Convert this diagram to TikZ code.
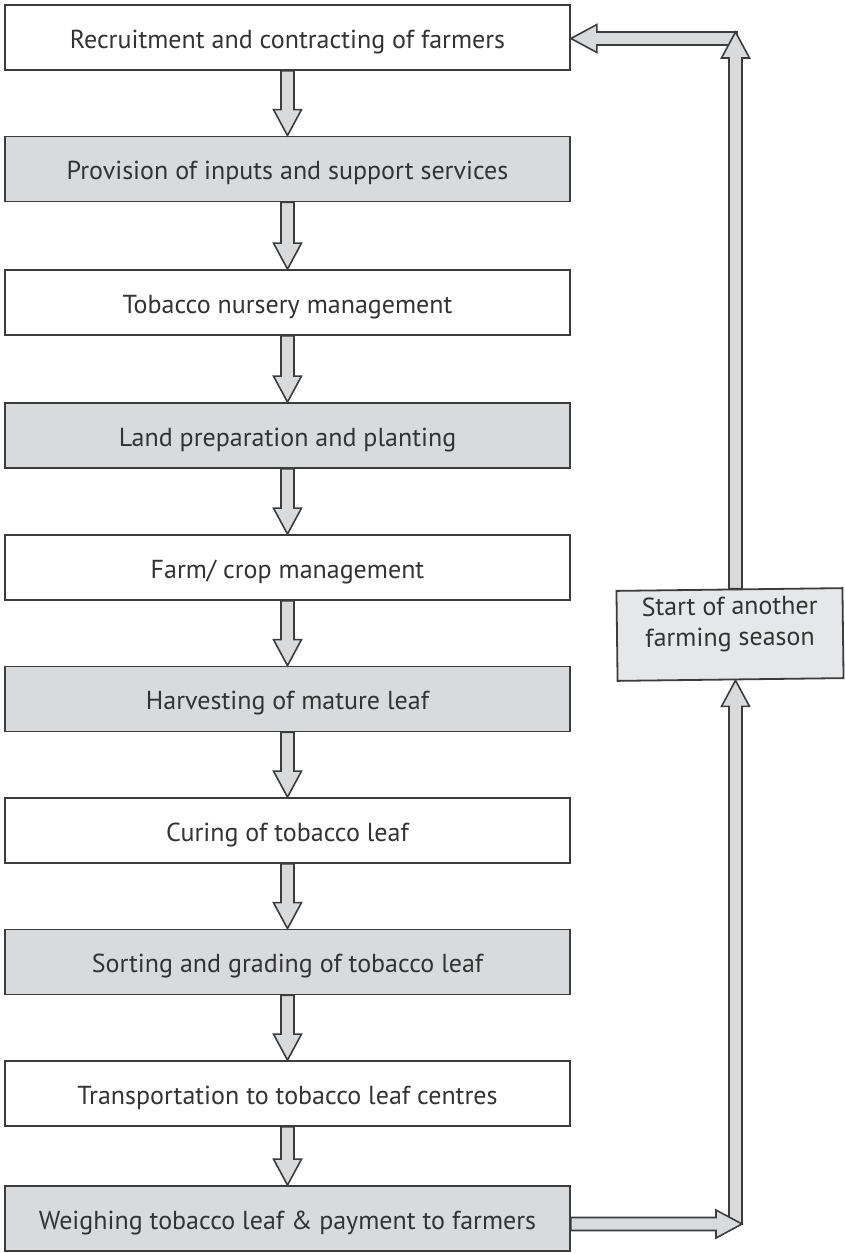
\documentclass[tikz,border=0pt]{standalone}
\usepackage{fontspec}
\setmainfont{PT Sans}
\usetikzlibrary{calc}
\definecolor{edge}{HTML}{3C3C3C}
\definecolor{boxgray}{HTML}{D9DADC}
\definecolor{lightgray2}{HTML}{E6E7E8}
\definecolor{txt}{HTML}{333333}
\newcommand\sw{6.5pt}
\newcommand\hw{14pt}
\newcommand\hl{26pt}
\newcommand\arrdown[2]{\path[blk] let \p1=(#1), \p2=(#2) in (\x1-\sw,\y1) -- (\x1+\sw,\y1) -- (\x1+\sw,\y2+\hl) -- (\x1+\hw,\y2+\hl) -- (\x1,\y2) -- (\x1-\hw,\y2+\hl) -- (\x1-\sw,\y2+\hl) -- cycle;}
\newcommand\arrup[2]{\path[blk] let \p1=(#1), \p2=(#2) in (\x1-\sw,\y1) -- (\x1+\sw,\y1) -- (\x1+\sw,\y2-\hl) -- (\x1+\hw,\y2-\hl) -- (\x1,\y2) -- (\x1-\hw,\y2-\hl) -- (\x1-\sw,\y2-\hl) -- cycle;}
\newcommand\arrright[2]{\path[blk] let \p1=(#1), \p2=(#2) in (\x1,\y1+\sw) -- (\x2-\hl,\y1+\sw) -- (\x2-\hl,\y1+\hw) -- (\x2,\y1) -- (\x2-\hl,\y1-\hw) -- (\x2-\hl,\y1-\sw) -- (\x1,\y1-\sw) -- cycle;}
\newcommand\arrleft[2]{\path[blk] let \p1=(#1), \p2=(#2) in (\x1,\y1+\sw) -- (\x2+\hl,\y1+\sw) -- (\x2+\hl,\y1+\hw) -- (\x2,\y1) -- (\x2+\hl,\y1-\hw) -- (\x2+\hl,\y1-\sw) -- (\x1,\y1-\sw) -- cycle;}
\tikzset{
  stepbox/.style={draw=edge, line width=1.8pt, minimum width=565pt, minimum height=65pt,
    inner sep=0pt, text=txt, font=\fontsize{26}{31}\selectfont},
  whitebox/.style={stepbox, fill=white, text height=21pt, text depth=0pt},
  graybox/.style={stepbox, fill=boxgray, text height=21pt, text depth=0pt},
  blk/.style={draw=edge, line width=1.6pt, fill=boxgray, line join=miter},
}
\begin{document}
\begin{tikzpicture}[x=1pt,y=-1pt]
\useasboundingbox (0,0) rectangle (845,1253);
\node[whitebox] (b1)  at (287.5,  37.5) {Recruitment and contracting of farmers};
\node[graybox]  (b2)  at (287.5, 169.0) {Provision of inputs and support services};
\node[whitebox] (b3)  at (287.5, 302.5) {Tobacco nursery management};
\node[graybox]  (b4)  at (287.5, 435.5) {Land preparation and planting};
\node[whitebox] (b5)  at (287.5, 567.5) {Farm/ crop management};
\node[graybox]  (b6)  at (287.5, 699.0) {Harvesting of mature leaf};
\node[whitebox] (b7)  at (287.5, 830.5) {Curing of tobacco leaf};
\node[graybox]  (b8)  at (287.5, 962.0) {Sorting and grading of tobacco leaf};
\node[whitebox] (b9)  at (287.5,1093.5) {Transportation to tobacco leaf centres};
\node[graybox]  (b10) at (287.5,1218.5) {Weighing tobacco leaf \& payment to farmers};
\node[stepbox, fill=lightgray2, minimum width=226pt, minimum height=90pt, rotate=0.7] (r) at (730,634.5)
  {\raisebox{4pt}[0pt][0pt]{\begin{tabular}{@{}c@{}}Start of another\\farming season\end{tabular}}};
\arrdown{b1.south}{b2.north}
\arrdown{b2.south}{b3.north}
\arrdown{b3.south}{b4.north}
\arrdown{b4.south}{b5.north}
\arrdown{b5.south}{b6.north}
\arrdown{b6.south}{b7.north}
\arrdown{b7.south}{b8.north}
\arrdown{b8.south}{b9.north}
\arrdown{b9.south}{b10.north}
\coordinate (c1) at (742,1224);
\coordinate (c1b) at (735.5,1224);
\coordinate (c2) at (735.5,32);
\coordinate (c3) at (737,38.5);
\arrleft{c3}{b1.east |- c3}
\arrup{c2 |- r.north}{c2}
\arrup{c1b}{c1b |- r.south}
\arrright{b10.east |- c1}{c1}
\end{tikzpicture}
\end{document}
